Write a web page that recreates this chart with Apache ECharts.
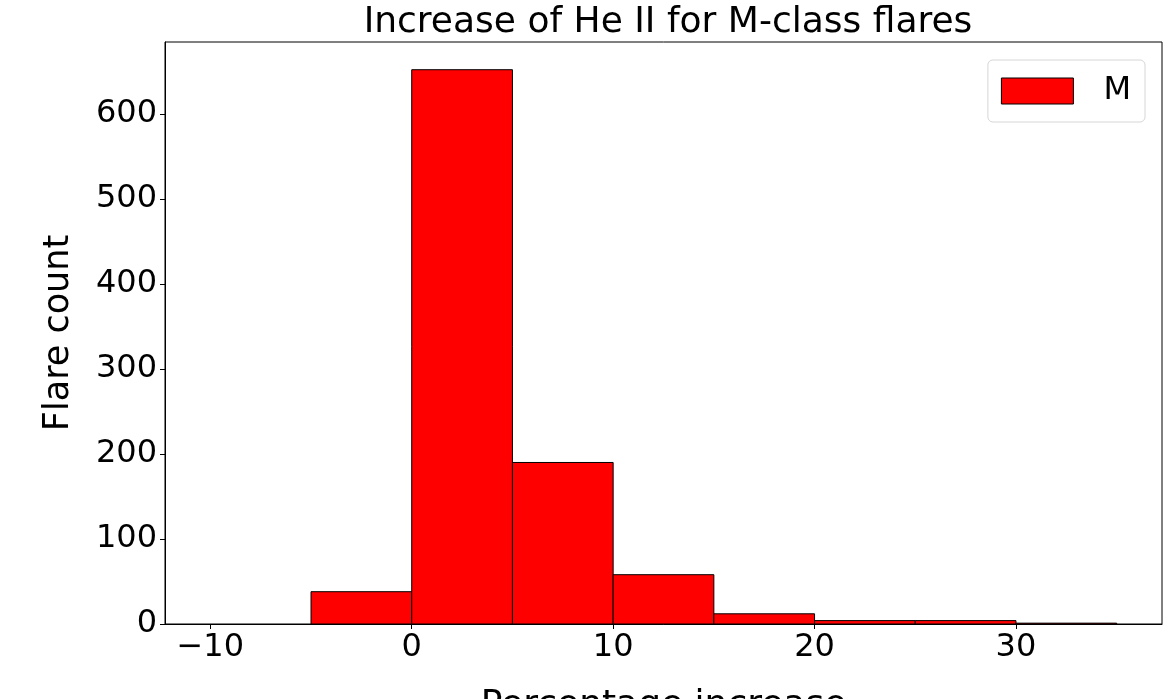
<!DOCTYPE html>
<html>
<head>
<meta charset="utf-8">
<script src="https://cdn.jsdelivr.net/npm/echarts@6/dist/echarts.min.js"></script>
<style>
  html, body { margin: 0; padding: 0; background: #fff; }
  #chart { width: 1169px; height: 699px; }
</style>
</head>
<body>
<div id="chart"></div>
<script>
// Histogram bins (percentage increase) and flare counts per bin
const binEdges = [-10, -5, 0, 5, 10, 15, 20, 25, 30, 35];
const counts = [0, 38, 652, 190, 58, 12, 4, 4, 1];
const seriesName = 'M';
const xTicks = [-10, 0, 10, 20, 30];
const yTicks = [0, 100, 200, 300, 400, 500, 600];

const FONT = 'DejaVu Sans';

const bins = counts.map((c, i) => [binEdges[i], binEdges[i + 1], c]);

// Axis limits with a 5% margin around the data range
const xSpan = binEdges[binEdges.length - 1] - binEdges[0];
const xMin = binEdges[0] - 0.05 * xSpan;
const xMax = binEdges[binEdges.length - 1] + 0.05 * xSpan;
const yMax = Math.max(...counts) * 1.05;

const fmtNum = v => (v < 0 ? '\u2212' + Math.abs(v) : String(v));

const chart = echarts.init(document.getElementById('chart'), null, { renderer: 'canvas' });

chart.setOption({
  backgroundColor: '#ffffff',
  animation: false,
  title: {
    text: 'Increase of He II for M-class flares',
    left: 663,
    textAlign: 'center',
    top: 0,
    textStyle: { fontFamily: FONT, fontSize: 36, fontWeight: 'normal', color: '#000' }
  },
  legend: {
    data: [{ name: seriesName, icon: 'rect' }],
    right: 24,
    top: 60,
    orient: 'vertical',
    itemWidth: 72,
    itemHeight: 26,
    padding: [15, 14, 15, 13],
    borderColor: '#d6d6d6',
    borderWidth: 1,
    borderRadius: 5,
    backgroundColor: 'rgba(255,255,255,0.8)',
    itemStyle: { color: '#ff0000', borderColor: '#000', borderWidth: 1 },
    textStyle: { fontFamily: FONT, fontSize: 32, color: '#000', padding: [0, 0, 0, 25] }
  },
  grid: {
    left: 165,
    right: 7,
    top: 42,
    bottom: 75,
    outerBoundsMode: 'none',
    containLabel: false,
    show: true,
    borderColor: '#000',
    borderWidth: 1,
    backgroundColor: 'transparent'
  },
  xAxis: {
    type: 'value',
    min: xMin,
    max: xMax,
    name: 'Percentage increase',
    nameLocation: 'middle',
    nameGap: 64,
    nameTextStyle: { fontFamily: FONT, fontSize: 36, color: '#000' },
    axisLine: { show: true, onZero: false, lineStyle: { color: '#000', width: 1 } },
    axisTick: { show: true, customValues: xTicks, length: 5, inside: false, lineStyle: { color: '#000' } },
    axisLabel: {
      customValues: xTicks,
      formatter: fmtNum,
      margin: 8,
      fontFamily: FONT,
      fontSize: 32,
      color: '#000'
    },
    splitLine: { show: false }
  },
  yAxis: {
    type: 'value',
    min: 0,
    max: yMax,
    name: 'Flare count',
    nameLocation: 'middle',
    nameGap: 89,
    nameTextStyle: { fontFamily: FONT, fontSize: 35, color: '#000' },
    axisLine: { show: true, onZero: false, lineStyle: { color: '#000', width: 1 } },
    axisTick: { show: true, customValues: yTicks, length: 5, inside: false, lineStyle: { color: '#000' } },
    axisLabel: {
      customValues: yTicks,
      formatter: fmtNum,
      margin: 8,
      fontFamily: FONT,
      fontSize: 32,
      color: '#000'
    },
    splitLine: { show: false }
  },
  series: [{
    name: seriesName,
    type: 'custom',
    itemStyle: { color: '#ff0000', borderColor: '#000', borderWidth: 1 },
    encode: { x: [0, 1], y: 2 },
    data: bins,
    renderItem: function (params, api) {
      if (api.value(2) <= 0) return null;
      const p0 = api.coord([api.value(0), api.value(2)]);
      const p1 = api.coord([api.value(1), 0]);
      return {
        type: 'rect',
        shape: { x: p0[0], y: p0[1], width: p1[0] - p0[0], height: p1[1] - p0[1] },
        style: { fill: '#ff0000', stroke: '#000', lineWidth: 1 }
      };
    }
  }]
});
</script>
</body>
</html>
